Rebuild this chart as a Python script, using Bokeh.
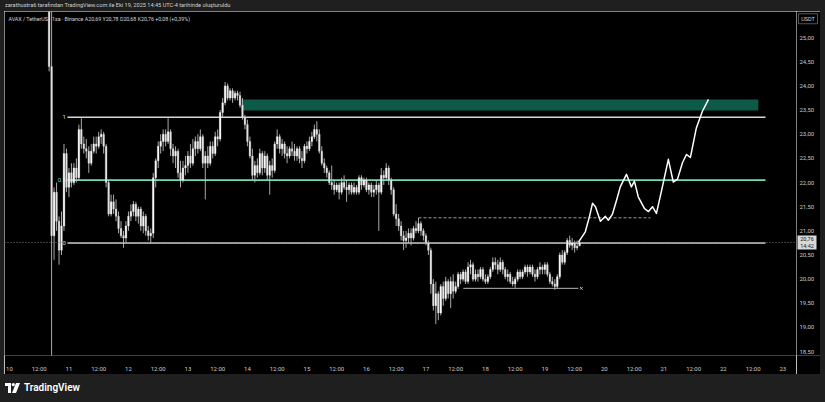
import numpy as np
from bokeh.plotting import figure
from bokeh.models import Range1d, FixedTicker, Label, Div, ColumnDataSource, Span
from bokeh.layouts import column, row
from bokeh.embed import file_html
from bokeh.resources import INLINE
from bokeh.core.properties import value

# ---------------------------------------------------------------------------
# AVAX / TetherUS, 1h candles (Binance), hours counted from 10 Oct 00:00 UTC-4
# ---------------------------------------------------------------------------
first_hour = 16          # first candle: 10 Oct 16:00
first_open = 26.0

closes = [
    # 10 Oct 16:00-23:00
    24.4, 20.9, 21.8, 21.2, 20.6, 21.1, 22.6, 21.9,
    # 11 Oct
    22.2, 22.0, 22.3, 22.1, 23.1, 22.8, 22.7, 22.65, 22.4, 22.65, 22.8, 22.75,
    22.95, 23.0, 22.75, 22.0, 21.35, 21.6, 21.45, 21.3, 21.05, 20.9, 20.85, 21.1,
    # 12 Oct
    21.3, 21.4, 21.55, 21.3, 21.45, 21.1, 21.3, 21.0, 20.9, 20.95, 22.1, 22.45,
    22.75, 22.85, 23.0, 22.85, 23.05, 22.7, 22.55, 22.65, 22.2, 22.05, 22.3, 22.35,
    # 13 Oct
    22.55, 22.4, 22.7, 22.85, 22.7, 22.95, 22.4, 22.55, 22.4, 22.75, 22.6, 22.95,
    22.9, 23.45, 23.65, 24.0, 23.75, 23.9, 23.75, 23.85, 23.8, 23.6, 23.35, 23.2,
    # 14 Oct
    22.85, 22.55, 22.15, 22.35, 22.2, 22.6, 22.3, 22.55, 22.15, 22.35, 22.25, 22.8,
    22.95, 22.7, 22.8, 22.6, 22.55, 22.7, 22.65, 22.55, 22.7, 22.5, 22.45, 22.75,
    # 15 Oct
    22.7, 22.85, 22.95, 23.1, 23.0, 22.65, 22.4, 22.3, 22.2, 22.0, 21.95, 21.85,
    21.95, 21.8, 22.0, 21.9, 21.85, 21.95, 21.8, 21.9, 21.8, 22.1, 21.95, 22.05,
    # 16 Oct
    21.85, 21.95, 21.8, 21.85, 21.95, 21.8, 22.15, 22.1, 22.3, 22.05, 21.85, 21.35,
    21.25, 21.1, 20.9, 20.8, 20.85, 20.95, 20.85, 21.05, 21.0, 21.15, 21.0, 20.9,
    # 17 Oct
    20.75, 20.6, 19.9, 19.45, 19.7, 19.3, 19.85, 19.6, 19.95, 19.7, 19.95, 19.75,
    19.85, 20.1, 20.0, 20.15, 19.95, 20.25, 20.3, 20.0, 20.1, 20.05, 20.2, 20.0,
    # 18 Oct
    19.95, 20.05, 20.2, 20.35, 20.3, 20.2, 20.35, 20.2, 20.05, 20.1, 19.95, 19.9,
    20.0, 20.15, 20.05, 20.15, 20.25, 20.15, 20.25, 20.1, 20.05, 20.2, 20.25, 20.2,
    # 19 Oct 00:00-13:00
    20.3, 20.1, 19.95, 19.9, 19.85, 20.05, 20.5, 20.35, 20.55, 20.8, 20.7, 20.75,
    20.65, 20.68,
]

highs = [
    26.4, 25.6, 21.9, 22.0, 21.3, 21.4, 22.8, 22.7,
    22.3, 22.4, 22.4, 22.5, 23.2, 23.33, 22.95, 22.9, 22.75, 22.8, 22.95, 22.95,
    23.05, 23.1, 23.05, 22.8, 22.05, 21.75, 21.75, 21.65, 21.4, 21.2, 21.0, 21.2,
    21.4, 21.55, 21.62, 21.6, 21.5, 21.5, 21.4, 21.35, 21.1, 21.05, 22.2, 22.5,
    22.85, 23.0, 23.1, 23.1, 23.33, 23.1, 22.8, 22.75, 22.7, 22.45, 22.45, 22.55,
    22.65, 22.8, 22.9, 22.95, 23.0, 23.1, 23.0, 22.65, 22.75, 22.85, 22.85, 23.05,
    23.1, 23.5, 23.75, 24.08, 24.05, 23.95, 23.95, 23.9, 23.9, 23.88, 23.75, 23.4,
    23.3, 22.95, 22.7, 22.45, 22.5, 22.7, 22.65, 22.65, 22.6, 22.45, 22.5, 22.85,
    23.1, 23.0, 22.9, 22.85, 22.75, 22.75, 22.85, 22.8, 22.75, 22.75, 22.65, 22.8,
    22.85, 22.95, 23.05, 23.2, 23.27, 23.1, 22.75, 22.5, 22.35, 22.25, 22.35, 22.05,
    22.0, 22.0, 22.1, 22.15, 22.05, 22.0, 22.0, 22.0, 21.95, 22.15, 22.15, 22.1,
    22.1, 22.0, 22.0, 21.95, 22.05, 22.0, 22.3, 22.25, 22.4, 22.35, 22.1, 21.9,
    21.55, 21.35, 21.2, 21.0, 21.0, 21.05, 21.05, 21.1, 21.2, 21.27, 21.2, 21.05,
    20.95, 20.8, 20.65, 20.0, 19.95, 19.75, 19.9, 19.95, 20.05, 20.0, 20.05, 20.1,
    19.95, 20.15, 20.15, 20.2, 20.2, 20.35, 20.4, 20.35, 20.2, 20.2, 20.25, 20.25,
    20.1, 20.1, 20.25, 20.45, 20.45, 20.4, 20.45, 20.4, 20.25, 20.2, 20.15, 20.05,
    20.05, 20.2, 20.2, 20.2, 20.3, 20.3, 20.3, 20.3, 20.2, 20.25, 20.35, 20.3,
    20.35, 20.35, 20.15, 20.05, 20.0, 20.1, 20.55, 20.6, 20.6, 20.85, 20.9, 20.85,
    20.8, 20.8,
]

lows = [
    24.3, 10.5, 20.4, 21.0, 20.3, 20.5, 21.0, 21.8,
    21.7, 21.9, 21.95, 22.0, 22.05, 22.7, 22.6, 22.5, 22.2, 22.35, 22.6, 22.6,
    22.7, 22.8, 22.6, 21.9, 21.3, 21.3, 21.35, 21.2, 20.95, 20.85, 20.65, 20.75,
    21.0, 21.2, 21.3, 21.2, 21.15, 21.0, 20.95, 20.9, 20.8, 20.75, 20.85, 21.9,
    22.3, 22.6, 22.65, 22.75, 22.8, 22.55, 22.4, 22.3, 22.1, 21.9, 22.0, 22.15,
    22.2, 22.3, 22.35, 22.55, 22.6, 22.65, 22.3, 21.65, 22.3, 22.35, 22.5, 22.55,
    22.75, 22.85, 23.35, 23.6, 23.7, 23.7, 23.65, 23.7, 23.7, 23.55, 23.3, 23.1,
    22.75, 22.5, 22.05, 22.0, 22.1, 22.15, 22.15, 22.2, 22.05, 21.75, 22.1, 22.2,
    22.7, 22.6, 22.55, 22.5, 22.4, 22.5, 22.55, 22.45, 22.45, 22.4, 22.3, 22.4,
    22.6, 22.65, 22.75, 22.9, 22.85, 22.6, 22.35, 22.2, 22.1, 21.95, 21.85, 21.75,
    21.8, 21.65, 21.75, 21.85, 21.6, 21.75, 21.75, 21.75, 21.75, 21.75, 21.85, 21.9,
    21.8, 21.75, 21.7, 21.7, 21.75, 21.0, 21.75, 21.95, 22.05, 21.95, 21.75, 21.3,
    21.1, 21.0, 20.8, 20.6, 20.65, 20.75, 20.7, 20.8, 20.95, 20.95, 20.9, 20.8,
    20.7, 20.5, 19.7, 19.35, 19.07, 19.15, 19.25, 19.45, 19.55, 19.6, 19.4, 19.6,
    19.7, 19.8, 19.9, 19.95, 19.9, 19.9, 20.1, 19.95, 19.95, 19.95, 20.0, 19.95,
    19.9, 19.9, 20.0, 20.15, 20.2, 20.1, 20.15, 20.1, 20.0, 19.95, 19.9, 19.85,
    19.82, 19.95, 20.0, 20.0, 20.1, 20.05, 20.1, 20.05, 19.95, 20.0, 20.1, 20.1,
    20.1, 20.05, 19.9, 19.85, 19.78, 19.8, 20.0, 20.3, 20.3, 20.5, 20.65, 20.6,
    20.55, 20.6,
]

# live bar, 19 Oct 14:00
last_open, last_high, last_low, last_close = 20.69, 20.78, 20.68, 20.76
countdown = "14:42"

# drawings
fib_high, fib_low = 23.35, 20.75          # retracement levels 1 and 0
fib_start, fib_end = 23.4, 305.0
zone_low, zone_high = 23.49, 23.72         # supply zone
zone_start, zone_end = 93.6, 302.1
breakout_level, breakout_start, breakout_end = 21.27, 165.0, 258.6
base_level, base_start, base_end = 19.81, 183.1, 229.5

# projected path
proj_hours = [229.5, 232.3, 234.0, 235.2, 236.4, 238.4, 240.4, 241.6, 243.2, 245.0,
              246.4, 248.9, 250.9, 252.1, 253.7, 256.2, 257.8, 259.4, 261.0, 263.4,
              265.8, 267.8, 269.5, 271.5, 273.1, 274.7, 277.1, 279.5, 282.0]
proj_prices = [20.76, 20.98, 21.30, 21.57, 21.50, 21.20, 21.30, 21.22, 21.34, 21.65,
               21.91, 22.17, 21.91, 22.03, 21.70, 21.46, 21.40, 21.50, 21.36, 21.91,
               22.48, 22.01, 22.07, 22.41, 22.58, 22.52, 23.13, 23.47, 23.72]

price_ticks = [18.5, 19.0, 19.5, 20.0, 20.5, 21.0, 21.5, 22.0, 22.5, 23.0, 23.5, 24.0, 24.5, 25.0]
day_labels = ["10", "11", "12", "13", "14", "15", "16", "17", "18", "19", "20", "21", "22", "23"]

# ---------------------------------------------------------------------------
FONT = "Roboto"
BG = "black"
FRAME_GRAY = "#1f1f1f"
TEXT = "#c9c9c9"
PANE_H = 363
Y_RANGE = Range1d(18.42, 25.54)


def fmt(v):
    return f"{v:.2f}".replace(".", ",")


closes_all = closes + [last_close]
highs_all = highs + [last_high]
lows_all = lows + [last_low]
opens_all = [first_open] + closes[:-1] + [last_open]
hours = first_hour + np.arange(len(closes_all))

o = np.array(opens_all)
c = np.array(closes_all)
hi = np.array(highs_all)
lo = np.array(lows_all)
up = c >= o
src_up = ColumnDataSource(dict(t=hours[up], top=c[up], bottom=o[up], hi=hi[up], lo=lo[up]))
src_dn = ColumnDataSource(dict(t=hours[~up], top=o[~up], bottom=c[~up], hi=hi[~up], lo=lo[~up]))

# main price pane with the time scale below it
p = figure(width=792, height=PANE_H, output_backend="svg", toolbar_location=None,
           x_range=Range1d(-2.0, 317.5), y_range=Y_RANGE,
           min_border_left=0, min_border_top=0, min_border_right=0, min_border_bottom=12,
           background_fill_color=BG, border_fill_color=BG, outline_line_color=None)
p.grid.visible = False
p.yaxis.visible = False

xax = p.xaxis[0]
day_ticks = [24 * i for i in range(len(day_labels))]
half_ticks = [24 * i + 12 for i in range(len(day_labels))]
xax.ticker = FixedTicker(ticks=sorted(day_ticks + half_ticks))
overrides = {t: lab for t, lab in zip(day_ticks, day_labels)}
overrides.update({t: "12:00" for t in half_ticks})
xax.major_label_overrides = overrides
xax.axis_line_color = None
xax.major_tick_line_color = None
xax.minor_tick_line_color = None
xax.major_label_text_color = TEXT
xax.major_label_text_font = FONT
xax.major_label_text_font_size = "6px"
xax.major_label_standoff = 3

# supply zone
p.quad(left=[zone_start], right=[zone_end], bottom=[zone_low], top=[zone_high],
       fill_color="#0e5a49", line_color=None)

# fibonacci retracement
fib_levels = [fib_high, (fib_high + fib_low) / 2, fib_low]
fib_colors = ["#d6d6d6", "#6fdcbc", "#d6d6d6"]
p.segment(x0=[fib_start] * 3, x1=[fib_end] * 3, y0=fib_levels, y1=fib_levels,
          line_color=fib_colors, line_width=1.6)
p.text(x=[fib_start - 0.6] * 3, y=fib_levels, text=["1", "0.5", "0"],
       text_color=fib_colors, text_font=value(FONT), text_font_size="6px",
       text_align="right", text_baseline="middle")

# current price line
p.add_layout(Span(location=last_close, dimension="width", line_color="#7a7a7a",
                  line_dash="1 2", line_width=1))

# breakout level and range base
p.segment(x0=[breakout_start], x1=[breakout_end], y0=[breakout_level], y1=[breakout_level],
          line_color="#9a9a9a", line_dash="3 2", line_width=1)
p.segment(x0=[base_start], x1=[base_end], y0=[base_level], y1=[base_level],
          line_color="#b5b5b5", line_width=1)
p.scatter(x=[base_end + 1.2], y=[base_level], marker="x", size=3.5, line_color="#c8c8c8", line_width=1)

# candles
for src, col in ((src_up, "#f7f7f7"), (src_dn, "#e2e2e2")):
    p.segment(x0="t", x1="t", y0="lo", y1="hi", source=src, line_color="#bdbdbd", line_width=0.9)
    p.vbar(x="t", width=0.68, top="top", bottom="bottom", source=src,
           fill_color=col, line_color=col, line_width=0.3)

# projected path
p.line(x=proj_hours, y=proj_prices, line_color="white", line_width=1.5, line_join="round")

# legend line
chg = last_close - closes[-1]
pct = chg / closes[-1] * 100
legend = (f"AVAX / TetherUS · 1sa · Binance  A{fmt(last_open)} Y{fmt(last_high)} "
          f"D{fmt(last_low)} K{fmt(last_close)} {'+' if chg >= 0 else ''}{fmt(chg)} "
          f"({'+' if pct >= 0 else ''}{fmt(pct)}%)")
p.add_layout(Label(x=-0.4, y=25.38, text=legend, text_font=FONT, text_font_size="5.3px",
                   text_color="#d1d4dc", text_baseline="middle"))

# price scale, sharing the pane's vertical scale
ps = figure(width=24, height=PANE_H, output_backend="svg", toolbar_location=None,
            x_range=Range1d(0, 24), y_range=Y_RANGE,
            min_border_left=0, min_border_top=0, min_border_right=0, min_border_bottom=12,
            background_fill_color=BG, border_fill_color=BG, outline_line_color=None)
ps.grid.visible = False
ps.axis.visible = False
ps.text(x=[3] * len(price_ticks), y=price_ticks, text=[fmt(t) for t in price_ticks],
        text_color=TEXT, text_font=value(FONT), text_font_size="6px",
        text_align="left", text_baseline="middle")
# currency badge
ps.rect(x=[11.5], y=[25.39], width=19, height=10, height_units="screen",
        fill_color=None, line_color="#6a6a6a", line_width=0.8)
ps.text(x=[11.5], y=[25.39], text=["USDT"], text_color="#d0d0d0", text_font=value(FONT),
        text_font_size="5.5px", text_align="center", text_baseline="middle")
# last price tag
ps.rect(x=[10.5], y=[last_close], width=19, height=14, height_units="screen",
        fill_color="#d9d9d9", line_color=None)
ps.text(x=[10.5], y=[last_close], y_offset=-3.2, text=[fmt(last_close)], text_color="#111111",
        text_font=value(FONT), text_font_size="5.5px", text_align="center", text_baseline="middle")
ps.text(x=[10.5], y=[last_close], y_offset=3.4, text=[countdown], text_color="#222222",
        text_font=value(FONT), text_font_size="5.5px", text_align="center", text_baseline="middle")

header = Div(text="zarathustra6 tarafından TradingView.com ile Eki 19, 2025 14:45 UTC-4 tarihinde oluşturuldu",
             width=825, height=11, margin=0,
             styles={"background-color": FRAME_GRAY, "color": "#cfcfcf", "font-family": FONT,
                     "font-size": "5.6px", "line-height": "11px", "padding-left": "5px",
                     "box-sizing": "border-box", "overflow": "hidden", "white-space": "nowrap"})
logo_svg = ('<svg width="15" height="10" viewBox="0 0 15 10" style="vertical-align:middle;margin-right:4px">'
            '<path d="M0 0h6v10H3V3H0z" fill="#fff"/><circle cx="8.3" cy="1.6" r="1.6" fill="#fff"/>'
            '<path d="M11 0h4l-4 10H7z" fill="#fff"/></svg>')
footer = Div(text=f'<div style="display:flex;align-items:center;height:28px">{logo_svg}'
                  f'<span style="font-weight:600;font-size:10px">TradingView</span></div>',
             width=825, height=28, margin=0,
             styles={"background-color": FRAME_GRAY, "color": "#ffffff", "font-family": FONT,
                     "padding-left": "5px", "box-sizing": "border-box", "overflow": "hidden"})
left_pad = Div(text="", width=4, height=PANE_H, margin=0, styles={"background-color": FRAME_GRAY})
right_pad = Div(text="", width=5, height=PANE_H, margin=0, styles={"background-color": FRAME_GRAY})

layout = column(header, row(left_pad, p, ps, right_pad, spacing=0), footer, spacing=0)

with open("out.html", "w") as f:
    f.write(file_html(layout, INLINE))
